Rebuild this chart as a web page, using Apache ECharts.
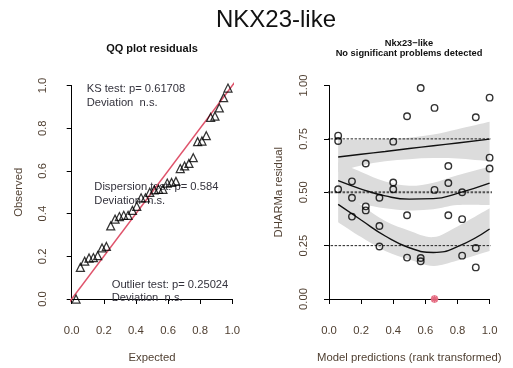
<!DOCTYPE html>
<html>
<head>
<meta charset="utf-8">
<script src="https://cdn.jsdelivr.net/npm/echarts@6/dist/echarts.min.js"></script>
<style>
  html, body { margin: 0; padding: 0; background: #fff; }
  #chart { width: 513px; height: 368px; }
</style>
</head>
<body>
<div id="chart"></div>
<script>
// QQ plot of scaled residuals: expected uniform quantiles vs observed residuals
const qqExpected = [0.027, 0.054, 0.081, 0.108, 0.135, 0.162, 0.189, 0.216, 0.243, 0.270,
  0.297, 0.324, 0.351, 0.378, 0.405, 0.432, 0.459, 0.486, 0.514, 0.541, 0.568, 0.595,
  0.622, 0.649, 0.676, 0.703, 0.730, 0.757, 0.784, 0.811, 0.838, 0.865, 0.892, 0.919,
  0.946, 0.973];
const qqObserved = [0.000, 0.148, 0.177, 0.192, 0.194, 0.203, 0.239, 0.246, 0.342, 0.374,
  0.386, 0.392, 0.392, 0.415, 0.434, 0.474, 0.474, 0.500, 0.511, 0.514, 0.514, 0.543,
  0.546, 0.551, 0.611, 0.623, 0.635, 0.662, 0.737, 0.740, 0.765, 0.851, 0.856, 0.895,
  0.943, 0.988];
const qqLineEnds = [-0.04, 1.04];

// Residuals vs rank-transformed model predictions
const predRank = [0.057, 0.057, 0.057, 0.143, 0.143, 0.143, 0.229, 0.229, 0.229,
  0.314, 0.314, 0.314, 0.400, 0.400, 0.400, 0.486, 0.486, 0.486, 0.571, 0.571, 0.571,
  0.657, 0.657, 0.657, 0.743, 0.743, 0.743, 0.829, 0.829, 0.829, 0.914, 0.914, 0.914,
  1.000, 1.000, 1.000];
const residual = [0.765, 0.740, 0.514, 0.551, 0.474, 0.386, 0.635, 0.434, 0.415,
  0.474, 0.342, 0.246, 0.737, 0.546, 0.514, 0.856, 0.392, 0.194, 0.988, 0.192, 0.177,
  0.895, 0.511, 0.000, 0.623, 0.543, 0.392, 0.500, 0.374, 0.203, 0.851, 0.239, 0.148,
  0.943, 0.662, 0.611];

// Quantile regression fits (0.25 / 0.5 / 0.75) with confidence bands
const fitX = [0.057, 0.2, 0.35, 0.5, 0.65, 0.8, 1.0];
const q75Fit = [0.665, 0.678, 0.691, 0.705, 0.718, 0.731, 0.749];
const q75Lo  = [0.595, 0.625, 0.645, 0.655, 0.660, 0.658, 0.645];
const q75Hi  = [0.745, 0.745, 0.748, 0.755, 0.770, 0.795, 0.830];
const q50Fit = [0.554, 0.515, 0.483, 0.468, 0.470, 0.495, 0.543];
const q50Lo  = [0.470, 0.445, 0.425, 0.415, 0.420, 0.440, 0.440];
const q50Hi  = [0.640, 0.595, 0.550, 0.530, 0.545, 0.580, 0.620];
const q25Fit = [0.443, 0.370, 0.295, 0.240, 0.218, 0.245, 0.328];
const q25Lo  = [0.360, 0.290, 0.225, 0.185, 0.155, 0.180, 0.225];
const q25Hi  = [0.520, 0.440, 0.365, 0.320, 0.290, 0.340, 0.425];
const refLevels = [0.25, 0.5, 0.75];
const refSpan = [-0.04, 1.04];

const FONT = 'Liberation Sans, Arial, Helvetica, sans-serif';
const TXT = '#4f3f31';
const labelStyle = { color: TXT, fontSize: 11.3, fontFamily: FONT };

function pairs(xs, ys) { return xs.map((x, i) => [x, ys[i]]); }

function axisX(grid, name) {
  return {
    gridIndex: grid, type: 'value', min: 0, max: 1, interval: 0.2,
    position: 'bottom', offset: 11,
    axisLine: { show: true, lineStyle: { color: '#000', width: 1 } },
    axisTick: { show: true, length: 5, lineStyle: { color: '#000', width: 1 } },
    splitLine: { show: false },
    axisLabel: Object.assign({ margin: 15, formatter: v => v.toFixed(1) }, labelStyle),
    name: name, nameLocation: 'middle', nameGap: 42,
    nameTextStyle: labelStyle
  };
}
function axisY(grid, name, interval, digits, offset, margin, nameGap) {
  return {
    gridIndex: grid, type: 'value', min: 0, max: 1, interval: interval,
    position: 'left', offset: offset,
    axisLine: { show: true, lineStyle: { color: '#000', width: 1 } },
    axisTick: { show: true, length: 5, lineStyle: { color: '#000', width: 1 } },
    splitLine: { show: false },
    axisLabel: Object.assign({ margin: margin, rotate: 90, formatter: v => v.toFixed(digits) }, labelStyle),
    name: name, nameLocation: 'middle', nameGap: nameGap, nameRotate: 90,
    nameTextStyle: labelStyle
  };
}

// Smooth (Catmull-Rom) path through pixel points, continuing an open path
function smoothSegments(pts) {
  let d = '';
  for (let i = 0; i < pts.length - 1; i++) {
    const p0 = pts[Math.max(i - 1, 0)], p1 = pts[i], p2 = pts[i + 1];
    const p3 = pts[Math.min(i + 2, pts.length - 1)];
    const c1 = [p1[0] + (p2[0] - p0[0]) / 6, p1[1] + (p2[1] - p0[1]) / 6];
    const c2 = [p2[0] - (p3[0] - p1[0]) / 6, p2[1] - (p3[1] - p1[1]) / 6];
    d += 'C' + c1[0] + ' ' + c1[1] + ' ' + c2[0] + ' ' + c2[1] + ' ' + p2[0] + ' ' + p2[1];
  }
  return d;
}

// Confidence band drawn as one filled shape between lower and upper edges
function band(lo, hi) {
  return {
    type: 'custom', coordinateSystem: 'cartesian2d', xAxisIndex: 1, yAxisIndex: 1,
    silent: true, z: 1,
    data: fitX.map((x, i) => [x, lo[i], hi[i]]),
    renderItem: function (params, api) {
      if (params.dataIndex !== 0) return null;
      const up = fitX.map((x, i) => api.coord([x, hi[i]]));
      const dn = fitX.map((x, i) => api.coord([x, lo[i]])).reverse();
      const d = 'M' + up[0][0] + ' ' + up[0][1] + smoothSegments(up) +
        'L' + dn[0][0] + ' ' + dn[0][1] + smoothSegments(dn) + 'Z';
      return { type: 'path', shape: { pathData: d }, style: { fill: '#dcdcdc', stroke: null } };
    }
  };
}
function fitLine(ys) {
  return { type: 'line', xAxisIndex: 1, yAxisIndex: 1, smooth: true, symbol: 'none',
    silent: true, z: 4, data: pairs(fitX, ys),
    lineStyle: { color: '#111', width: 1.4 } };
}

const isOutlier = r => r <= 0 || r >= 1;
const normalPts = [], outlierPts = [];
predRank.forEach((x, i) => (isOutlier(residual[i]) ? outlierPts : normalPts).push([x, residual[i]]));

const series = [];
// left panel
series.push({
  type: 'line', xAxisIndex: 0, yAxisIndex: 0, clip: false, symbol: 'none', silent: true, z: 2,
  data: qqLineEnds.map(v => [v, v]),
  lineStyle: { color: '#DF536B', width: 1.5 }
});
series.push({
  type: 'scatter', xAxisIndex: 0, yAxisIndex: 0, symbol: 'triangle', symbolSize: 8, z: 3,
  data: pairs(qqExpected, qqObserved),
  itemStyle: { color: 'transparent', borderColor: '#000', borderWidth: 1.25 }
});
// right panel
series.push(band(q75Lo, q75Hi), band(q50Lo, q50Hi), band(q25Lo, q25Hi));
refLevels.forEach(h => series.push({
  type: 'line', xAxisIndex: 1, yAxisIndex: 1, clip: false, symbol: 'none', silent: true, z: 3,
  data: refSpan.map(x => [x, h]),
  lineStyle: { color: h === 0.5 ? '#555' : '#222', width: h === 0.5 ? 1.8 : 1, type: [2.5, 1.5] }
}));
series.push(fitLine(q75Fit), fitLine(q50Fit), fitLine(q25Fit));
series.push({
  type: 'scatter', xAxisIndex: 1, yAxisIndex: 1, symbol: 'circle', symbolSize: 6.5, z: 5,
  data: normalPts,
  itemStyle: { color: 'transparent', borderColor: '#000', borderWidth: 1.4 }
});
series.push({
  type: 'scatter', xAxisIndex: 1, yAxisIndex: 1, symbol: 'circle', symbolSize: 7, z: 5,
  data: outlierPts, itemStyle: { color: '#f3a9b6', borderColor: '#e8798d', borderWidth: 1 }
});
series.push({
  type: 'scatter', xAxisIndex: 1, yAxisIndex: 1, z: 6,
  symbol: 'path://M5 0L5 10M0 5L10 5M1.5 1.5L8.5 8.5M1.5 8.5L8.5 1.5', symbolSize: 7,
  data: outlierPts, itemStyle: { color: 'none', borderColor: '#DF536B', borderWidth: 1.3 }
});

function txt(x, y, text, size, weight, align, fill) {
  return { type: 'text', x: x, y: y, z: 1, silent: true,
    style: { text: text, fill: fill || '#111', font: (weight || 'normal') + ' ' + size + 'px ' + FONT,
      textAlign: align || 'center', textVerticalAlign: 'middle' } };
}
const ANN = '#33323c';

const chart = echarts.init(document.getElementById('chart'), null, { renderer: 'canvas' });
chart.setOption({
  animation: false,
  backgroundColor: '#fff',
  grid: [
    { left: 71.7, top: 85.5, width: 160.6, height: 216.6 },
    { left: 329, top: 85.5, width: 160.6, height: 216.6 }
  ],
  xAxis: [axisX(0, 'Expected'), axisX(1, 'Model predictions (rank transformed)')],
  yAxis: [axisY(0, 'Observed', 0.2, 1, 6, 17, 41), axisY(1, 'DHARMa residual', 0.25, 2, 7, 13, 38)],
  series: series,
  graphic: [
    txt(276, 20, 'NKX23-like', 24, 'normal', 'center', '#111'),
    txt(152, 49, 'QQ plot residuals', 11, 'bold'),
    txt(409, 43.5, 'Nkx23\u2212like', 9.3, 'bold'),
    txt(409, 53.7, 'No significant problems detected', 9.3, 'bold'),
    txt(86.7, 89, 'KS test: p= 0.61708', 11.2, 'normal', 'left', ANN),
    txt(86.7, 102.5, 'Deviation  n.s.', 11.2, 'normal', 'left', ANN),
    txt(94.3, 187, 'Dispersion test: p= 0.584', 11.2, 'normal', 'left', ANN),
    txt(94.3, 200.5, 'Deviation  n.s.', 11.2, 'normal', 'left', ANN),
    txt(111.7, 285, 'Outlier test: p= 0.25024', 11.2, 'normal', 'left', ANN),
    txt(111.7, 297.5, 'Deviation  n.s.', 11.2, 'normal', 'left', ANN)
  ]
});
</script>
</body>
</html>
